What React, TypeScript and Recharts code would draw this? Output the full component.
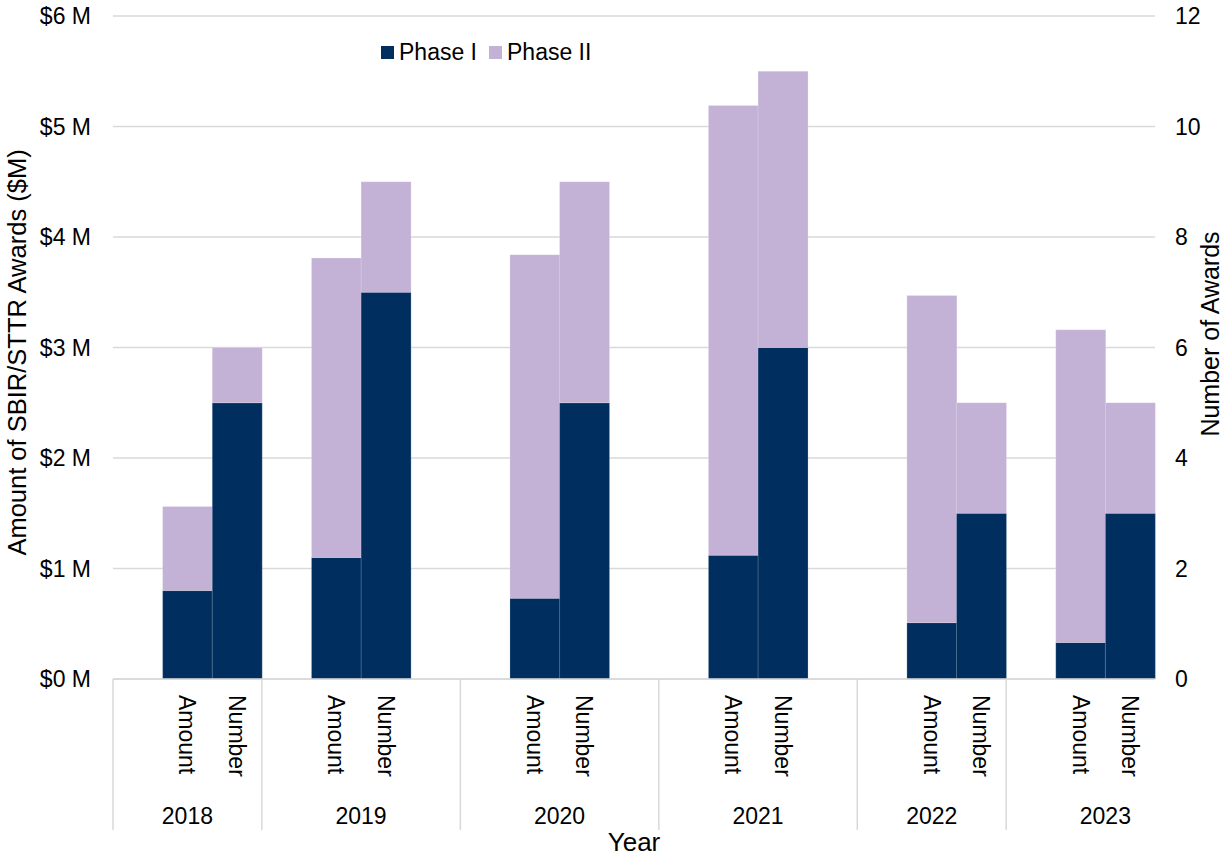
import { Bar, BarChart, CartesianGrid, Label, Legend, XAxis, YAxis } from "recharts";

const years = ["2018", "2019", "2020", "2021", "2022", "2023"];
// SBIR/STTR award amounts, $M
const amountPhaseI = [0.8, 1.1, 0.73, 1.12, 0.51, 0.33];
const amountPhaseII = [0.76, 2.71, 3.11, 4.07, 2.96, 2.83];
// number of awards
const numberPhaseI = [5, 7, 5, 6, 3, 3];
const numberPhaseII = [1, 2, 4, 5, 2, 2];

const amountTicks = [0, 1, 2, 3, 4, 5, 6];
const numberTicks = [0, 2, 4, 6, 8, 10, 12];

// empty slots after each year's pair, and how many slots the year label is centred over
const trailingBlanks = [0, 1, 1, 1, 0, 0];
const labelSpan = [3, 4, 4, 4, 3, 4];

const NAVY = "#002F5F";
const LAVENDER = "#C3B1D6";
const GRID = "#D9D9D9";
const FONT = "'Liberation Sans', Arial, sans-serif";

const PHASES = [
  { name: "Phase I", color: NAVY },
  { name: "Phase II", color: LAVENDER },
];

const W = 1225;
const H = 856;
const LEFT_W = 113;
const RIGHT_W = 70;
const TOP = 16;
const X_AXIS_H = 177;

type Row = {
  key: string;
  kind: "" | "Amount" | "Number";
  year?: string;
  span?: number;
  amtI?: number;
  amtII?: number;
  numI?: number;
  numII?: number;
};

const rows: Row[] = [];
years.forEach((year, i) => {
  rows.push({ key: `g${i}`, kind: "", year, span: labelSpan[i] });
  rows.push({ key: `a${i}`, kind: "Amount", amtI: amountPhaseI[i], amtII: amountPhaseII[i] });
  rows.push({ key: `n${i}`, kind: "Number", numI: numberPhaseI[i], numII: numberPhaseII[i] });
  for (let k = 0; k < trailingBlanks[i]; k++) rows.push({ key: `t${i}-${k}`, kind: "" });
});

const band = (W - LEFT_W - RIGHT_W) / rows.length;

// two-level category axis: Amount/Number on top, year groups below with separators
function CategoryTick({ x, y, payload }: any) {
  const row = rows.find((r) => r.key === payload.value);
  if (!row) return null;
  if (row.kind) {
    return (
      <text
        x={x}
        y={y + 16}
        transform={`rotate(90, ${x}, ${y + 16})`}
        textAnchor="start"
        dominantBaseline="central"
        fontSize={23}
        fontFamily={FONT}
        fill="#000"
      >
        {row.kind}
      </text>
    );
  }
  if (!row.year) return null;
  const left = x - band / 2;
  return (
    <g>
      <line x1={left} x2={left} y1={y} y2={y + 151} stroke={GRID} strokeWidth={1.5} />
      <text
        x={left + ((row.span ?? 3) * band) / 2}
        y={y + 137}
        textAnchor="middle"
        dominantBaseline="central"
        fontSize={23}
        fontFamily={FONT}
        fill="#000"
      >
        {row.year}
      </text>
    </g>
  );
}

function PhaseLegend() {
  return (
    <div style={{ display: "flex", alignItems: "center", fontSize: 23, fontFamily: FONT, color: "#000" }}>
      {PHASES.map((p) => (
        <span key={p.name} style={{ display: "flex", alignItems: "center", marginRight: 12 }}>
          <span style={{ width: 13, height: 13, background: p.color, marginRight: 5, display: "inline-block" }} />
          {p.name}
        </span>
      ))}
    </div>
  );
}

export default function App() {
  return (
    <div style={{ position: "absolute", left: 0, top: 0, background: "#fff" }}>
      <BarChart
        width={W}
        height={H}
        data={rows}
        margin={{ top: TOP, right: 0, left: 0, bottom: 0 }}
        barCategoryGap={0}
        barGap={0}
        style={{ fontFamily: FONT }}
      >
        <CartesianGrid yAxisId="left" vertical={false} stroke={GRID} strokeWidth={1.5} />
        <XAxis
          dataKey="key"
          interval={0}
          height={X_AXIS_H}
          tickLine={false}
          tickSize={0}
          tickMargin={0}
          axisLine={{ stroke: GRID, strokeWidth: 1.5 }}
          tick={<CategoryTick />}
        >
          <Label
            content={({ viewBox }: any) => (
              <text
                x={viewBox.x + viewBox.width / 2}
                y={viewBox.y + viewBox.height - 5}
                textAnchor="middle"
                fontSize={26}
                fontFamily={FONT}
                fill="#000"
              >
                Year
              </text>
            )}
          />
        </XAxis>
        <YAxis
          yAxisId="left"
          width={LEFT_W}
          domain={[0, 6]}
          ticks={amountTicks}
          tickFormatter={(v) => `$${v} M`}
          tick={{ fontSize: 23, fill: "#000", fontFamily: FONT }}
          tickLine={false}
          tickSize={0}
          tickMargin={22}
          axisLine={false}
        >
          <Label
            content={({ viewBox }: any) => {
              const cy = viewBox.y + viewBox.height / 2 + 5;
              return (
                <text
                  x={17}
                  y={cy}
                  transform={`rotate(-90, 17, ${cy})`}
                  textAnchor="middle"
                  dominantBaseline="central"
                  fontSize={25.5}
                  fontFamily={FONT}
                  fill="#000"
                >
                  Amount of SBIR/STTR Awards ($M)
                </text>
              );
            }}
          />
        </YAxis>
        <YAxis
          yAxisId="right"
          orientation="right"
          width={RIGHT_W}
          domain={[0, 12]}
          ticks={numberTicks}
          tick={{ fontSize: 23, fill: "#000", fontFamily: FONT, textAnchor: "start" }}
          tickLine={false}
          tickSize={0}
          tickMargin={20}
          axisLine={false}
        >
          <Label
            content={({ viewBox }: any) => {
              const cx = viewBox.x + 55;
              const cy = viewBox.y + 318;
              return (
                <text
                  x={cx}
                  y={cy}
                  transform={`rotate(-90, ${cx}, ${cy})`}
                  textAnchor="middle"
                  dominantBaseline="central"
                  fontSize={25}
                  fontFamily={FONT}
                  fill="#000"
                >
                  Number of Awards
                </text>
              );
            }}
          />
        </YAxis>
        <Legend
          verticalAlign="middle"
          align="center"
          content={<PhaseLegend />}
          wrapperStyle={{ left: 381, top: 39, width: "auto" }}
        />
        <Bar dataKey="amtI" name="Phase I" yAxisId="left" stackId="s" fill={NAVY} stroke="#ffffff" strokeOpacity={0.2} isAnimationActive={false} />
        <Bar dataKey="amtII" name="Phase II" yAxisId="left" stackId="s" fill={LAVENDER} stroke="#ffffff" strokeOpacity={0.2} isAnimationActive={false} />
        <Bar dataKey="numI" name="Phase I" yAxisId="right" stackId="s" fill={NAVY} stroke="#ffffff" strokeOpacity={0.2} isAnimationActive={false} />
        <Bar dataKey="numII" name="Phase II" yAxisId="right" stackId="s" fill={LAVENDER} stroke="#ffffff" strokeOpacity={0.2} isAnimationActive={false} />
      </BarChart>
    </div>
  );
}
